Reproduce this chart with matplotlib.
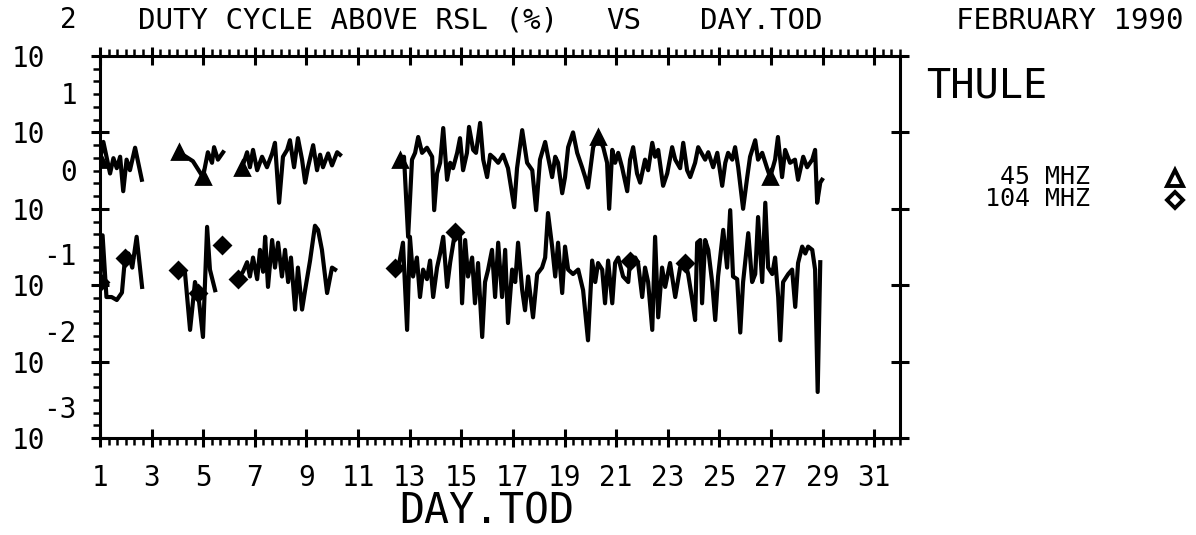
import numpy as np
import matplotlib
matplotlib.use('Agg')
import matplotlib.pyplot as plt
from matplotlib.ticker import FixedLocator, NullFormatter, FixedFormatter
from matplotlib.lines import Line2D

plt.rcParams['font.family'] = ['DejaVu Sans Mono']

GAP = (np.nan, np.nan)

# duty cycle above RSL (%) vs day.tod; GAP = no data
mhz45 = [
    (1.00, 4.4), (1.13, 7.5), (1.39, 2.9), (1.52, 4.6), (1.65, 3.4), (1.78, 4.8),
    (1.90, 1.7), (2.03, 4.4), (2.16, 3.2), (2.36, 6.3), (2.62, 2.4),
    GAP,
    (4.08, 5.5), (4.25, 5.0), (4.60, 4.2), (4.99, 2.6), (5.18, 5.5), (5.34, 4.0),
    (5.42, 6.4), (5.57, 4.4), (5.77, 5.5),
    GAP,
    (6.50, 3.4), (6.70, 5.5), (6.81, 3.5), (6.93, 5.9), (7.09, 3.2), (7.28, 4.8),
    (7.47, 3.5), (7.67, 5.3), (7.78, 7.3), (7.94, 1.2), (8.09, 4.8), (8.25, 5.9),
    (8.36, 7.9), (8.52, 3.5), (8.67, 8.4), (8.83, 4.4), (8.95, 2.2), (9.06, 3.5),
    (9.26, 6.8), (9.41, 3.2), (9.53, 5.1), (9.64, 3.5), (9.84, 5.3), (9.99, 3.7),
    (10.19, 5.5), (10.30, 5.1),
    GAP,
    (12.63, 4.4), (12.78, 4.8), (12.94, 0.43), (13.09, 4.4), (13.21, 5.4), (13.33, 8.7),
    (13.48, 5.4), (13.67, 6.3), (13.87, 4.8), (13.95, 0.96), (14.06, 2.9), (14.18, 4.0),
    (14.30, 11.4), (14.45, 2.4), (14.57, 4.0), (14.68, 3.4), (14.84, 5.4), (14.95, 8.4),
    (15.07, 3.2), (15.22, 5.4), (15.30, 11.8), (15.46, 5.9), (15.57, 5.4), (15.73, 13.3),
    (15.85, 4.4), (16.00, 2.6), (16.12, 5.1), (16.27, 4.6), (16.43, 4.0), (16.62, 5.1),
    (16.81, 3.4), (17.05, 1.05), (17.16, 3.4), (17.36, 10.7), (17.55, 4.0), (17.75, 3.2),
    (17.90, 0.96), (18.05, 4.4), (18.25, 7.5), (18.36, 4.8), (18.52, 2.6), (18.64, 4.8),
    (18.75, 4.0), (18.91, 1.6), (19.02, 2.6), (19.14, 6.4), (19.33, 10.0), (19.49, 5.4),
    (19.68, 3.5), (19.80, 2.6), (19.91, 1.9), (20.11, 6.4), (20.30, 8.7), (20.50, 6.4),
    (20.65, 4.0), (20.73, 1.0), (20.85, 5.9), (20.96, 4.0), (21.08, 5.4), (21.23, 3.5),
    (21.43, 1.7), (21.54, 4.4), (21.66, 6.4), (21.81, 2.9), (21.93, 2.2), (22.12, 4.4),
    (22.24, 3.2), (22.40, 7.3), (22.51, 4.8), (22.63, 5.9), (22.82, 2.0), (22.98, 2.9),
    (23.17, 6.4), (23.29, 4.4), (23.48, 3.4), (23.60, 7.3), (23.75, 3.2), (23.87, 2.6),
    (24.06, 4.0), (24.18, 6.4), (24.45, 4.4), (24.57, 5.5), (24.76, 3.5), (24.92, 5.4),
    (25.11, 2.0), (25.23, 4.0), (25.34, 5.4), (25.50, 4.4), (25.61, 6.4), (25.73, 3.5),
    (25.92, 1.0), (26.08, 2.6), (26.19, 4.8), (26.39, 7.9), (26.50, 4.4), (26.66, 5.4),
    (26.85, 3.4), (26.97, 2.6), (27.16, 4.4), (27.27, 8.7), (27.43, 2.6), (27.55, 5.9),
    (27.74, 4.0), (27.93, 4.4), (28.05, 2.4), (28.25, 4.8), (28.40, 3.5), (28.60, 4.4),
    (28.71, 5.9), (28.79, 1.2), (28.91, 2.2), (28.98, 2.4),
]

mhz104 = [
    (1.00, 0.11), (1.10, 0.45), (1.25, 0.07), (1.45, 0.07), (1.65, 0.064), (1.85, 0.08),
    (1.97, 0.23), (2.10, 0.26), (2.25, 0.17), (2.42, 0.43), (2.63, 0.095),
    GAP,
    (4.02, 0.16), (4.29, 0.15), (4.49, 0.026), (4.68, 0.11), (4.80, 0.08), (4.99, 0.021),
    (5.15, 0.58), (5.26, 0.16), (5.46, 0.086),
    GAP,
    (5.73, 0.34),
    GAP,
    (6.35, 0.12), (6.54, 0.15), (6.70, 0.20), (6.81, 0.13), (6.93, 0.23), (7.09, 0.12),
    (7.20, 0.29), (7.32, 0.15), (7.40, 0.43), (7.51, 0.095), (7.67, 0.39), (7.78, 0.17),
    (7.90, 0.36), (8.05, 0.13), (8.17, 0.29), (8.29, 0.11), (8.40, 0.23), (8.56, 0.048),
    (8.67, 0.17), (8.83, 0.048), (8.95, 0.087), (9.14, 0.21), (9.33, 0.60), (9.45, 0.53),
    (9.60, 0.29), (9.80, 0.079), (9.99, 0.17), (10.11, 0.16),
    GAP,
    (12.44, 0.17), (12.55, 0.16), (12.74, 0.36), (12.90, 0.026), (13.01, 0.43), (13.13, 0.13),
    (13.28, 0.23), (13.40, 0.07), (13.52, 0.16), (13.67, 0.12), (13.79, 0.21), (13.91, 0.07),
    (14.06, 0.17), (14.18, 0.26), (14.30, 0.43), (14.45, 0.095), (14.57, 0.20), (14.76, 0.50),
    (14.95, 0.43), (15.03, 0.058), (15.15, 0.39), (15.26, 0.13), (15.42, 0.23), (15.53, 0.058),
    (15.65, 0.195), (15.81, 0.021), (15.92, 0.11), (16.04, 0.16), (16.19, 0.29), (16.31, 0.07),
    (16.43, 0.36), (16.58, 0.07), (16.70, 0.29), (16.81, 0.032), (16.97, 0.16), (17.09, 0.11),
    (17.20, 0.36), (17.36, 0.086), (17.47, 0.047), (17.59, 0.13), (17.78, 0.038), (17.94, 0.14),
    (18.13, 0.17), (18.25, 0.23), (18.36, 0.88), (18.52, 0.32), (18.64, 0.13), (18.75, 0.36),
    (18.91, 0.079), (19.02, 0.32), (19.14, 0.16), (19.33, 0.14), (19.53, 0.16), (19.72, 0.086),
    (19.91, 0.019), (20.07, 0.21), (20.19, 0.11), (20.30, 0.195), (20.46, 0.16), (20.57, 0.058),
    (20.69, 0.21), (20.85, 0.058), (20.96, 0.195), (21.08, 0.23), (21.27, 0.13), (21.47, 0.11),
    (21.54, 0.21), (21.74, 0.23), (21.85, 0.195), (22.01, 0.07), (22.12, 0.17), (22.24, 0.11),
    (22.40, 0.026), (22.51, 0.43), (22.63, 0.038), (22.78, 0.17), (22.90, 0.095), (23.09, 0.195),
    (23.29, 0.07), (23.48, 0.17), (23.68, 0.195), (23.79, 0.14), (23.95, 0.064), (24.06, 0.035),
    (24.14, 0.36), (24.26, 0.39), (24.33, 0.058), (24.45, 0.39), (24.57, 0.29), (24.72, 0.11),
    (24.84, 0.035), (24.95, 0.13), (25.15, 0.53), (25.30, 0.17), (25.42, 0.96), (25.53, 0.13),
    (25.69, 0.12), (25.81, 0.024), (25.92, 0.11), (26.12, 0.48), (26.27, 0.11), (26.39, 0.14),
    (26.50, 0.78), (26.66, 0.11), (26.78, 1.2), (26.89, 0.17), (27.05, 0.14), (27.16, 0.23),
    (27.28, 0.07), (27.36, 0.019), (27.47, 0.11), (27.67, 0.14), (27.82, 0.16), (27.94, 0.052),
    (28.05, 0.195), (28.21, 0.32), (28.33, 0.26), (28.44, 0.32), (28.60, 0.29), (28.71, 0.16),
    (28.81, 0.004), (28.91, 0.20),
]

tri_days = [1.00, 4.08, 4.99, 6.50, 12.63, 20.30, 26.97]
dia_days = [1.00, 1.97, 4.02, 4.80, 5.73, 6.35, 12.44, 14.76, 21.54, 23.68]

day_ticks = list(range(1, 32, 2))
decades = [-3, -2, -1, 0, 1, 2]


def marks_at(days, wanted):
    return [int(np.nanargmin(np.abs(days - w))) for w in wanted]


W, H = 1196, 535
fig = plt.figure(figsize=(W / 100, H / 100), dpi=100)
ax = fig.add_axes([100 / W, 97 / H, 800 / W, 382 / H])

d45, v45 = np.array(mhz45).T
d104, v104 = np.array(mhz104).T

ax.plot(d45, v45, color='black', lw=3.0, marker='^', ms=10, mfc='black', mec='black',
        mew=2, markevery=marks_at(d45, tri_days))
ax.plot(d104, v104, color='black', lw=3.0, marker='D', ms=8, mfc='black', mec='black',
        mew=2, markevery=marks_at(d104, dia_days))

ax.set_yscale('log')
ax.set_ylim(1e-3, 1e2)
ax.set_xlim(1, 32)

for s in ax.spines.values():
    s.set_linewidth(2.2)

# x ticks: labels every 2 days, minor every 8 hours
ax.xaxis.set_major_locator(FixedLocator(day_ticks))
ax.xaxis.set_major_formatter(FixedFormatter([str(d) for d in day_ticks]))
ax.xaxis.set_minor_locator(FixedLocator(np.arange(1, 32.01, 1 / 3)))
ax.xaxis.set_ticks_position('both')

# y ticks: decades, with five evenly spaced (in log) minors
ax.yaxis.set_major_locator(FixedLocator([10.0 ** k for k in decades]))
ax.yaxis.set_minor_locator(FixedLocator([10.0 ** (k + j / 6) for k in decades[:-1] for j in range(1, 6)]))
ax.yaxis.set_major_formatter(NullFormatter())
ax.yaxis.set_minor_formatter(NullFormatter())
ax.yaxis.set_ticks_position('both')

ax.tick_params(which='major', direction='inout', length=13, width=2.2)
ax.tick_params(which='minor', direction='out', length=5, width=1.8)
ax.tick_params(axis='y', which='minor', right=False)
ax.tick_params(axis='x', which='major', labelsize=20, pad=12)

for k in decades:
    ax.annotate('10', xy=(0, 10.0 ** k), xycoords=ax.get_yaxis_transform(),
                xytext=(-55, -3), textcoords='offset pixels', ha='right', va='center',
                fontsize=20, annotation_clip=False)
    up = 36 if k >= 0 else 28
    ax.annotate(str(k), xy=(0, 10.0 ** k), xycoords=ax.get_yaxis_transform(),
                xytext=(-23, up), textcoords='offset pixels', ha='right', va='center',
                fontsize=20, annotation_clip=False)


def px(x, y):
    return x / W, 1 - y / H


fig.text(*px(138, 21), 'DUTY CYCLE ABOVE RSL (%)', fontsize=21, ha='left', va='center')
fig.text(*px(606, 21), 'VS', fontsize=21, ha='left', va='center')
fig.text(*px(700, 21), 'DAY.TOD', fontsize=21, ha='left', va='center')
fig.text(*px(1183, 21), 'FEBRUARY 1990', fontsize=21, ha='right', va='center')
fig.text(*px(926, 87), 'THULE', fontsize=29, ha='left', va='center')
fig.text(*px(487, 512), 'DAY.TOD', fontsize=30, ha='center', va='center')

fig.text(*px(1090, 177), '45 MHZ', fontsize=18, ha='right', va='center')
fig.text(*px(1090, 199), '104 MHZ', fontsize=18, ha='right', va='center')
fig.add_artist(Line2D([1175 / W], [1 - 178 / H], transform=fig.transFigure, ls='none',
                      marker='^', ms=11, mfc='white', mec='black', mew=2.8))
fig.add_artist(Line2D([1175 / W], [1 - 200 / H], transform=fig.transFigure, ls='none',
                      marker='D', ms=8, mfc='white', mec='black', mew=2.8))

fig.savefig('out.png', dpi=100)
